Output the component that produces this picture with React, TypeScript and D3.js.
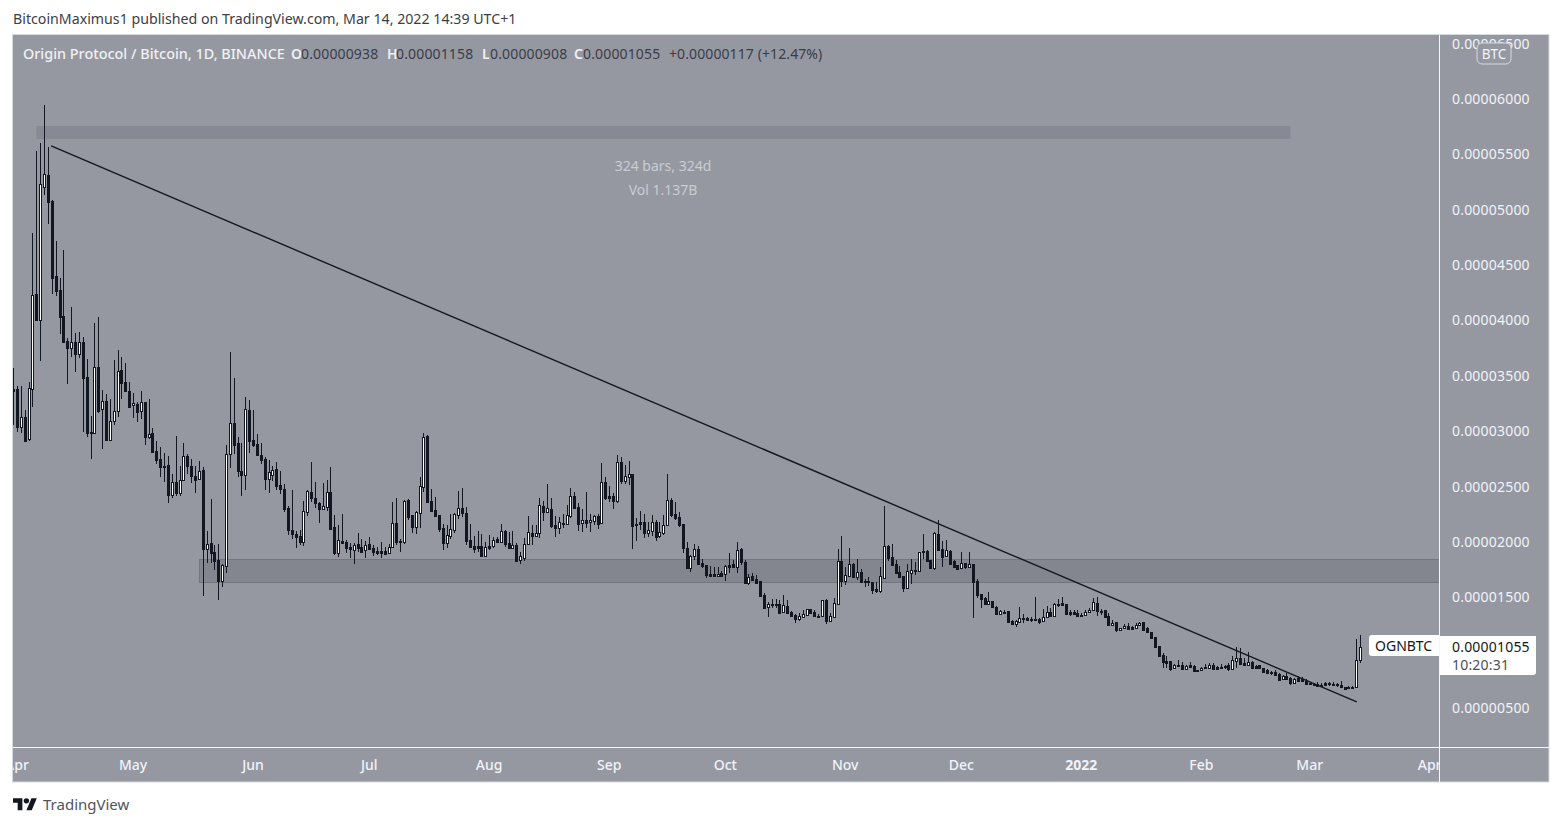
import React from "react";
import * as d3 from "d3";

type C = [number, number, number, number];
// daily OGN/BTC candles in satoshi: open, high, low, close. First row is 31 Mar 2021
const candlesSpring: C[] = [
  [3381,3571,3056,3363],[3381,3408,2993,3038],[3038,3408,2984,3128],[3128,3192,2912,2912],[2930,3445,2912,3390],[3381,4790,3219,4230],[4239,5530,4004,4004],[4004,5603,3634,5232],[5205,5946,5133,5323],[5314,5567,4871,5070],
  [5079,5088,4239,4384],[4402,4718,4221,4266],[4275,4384,3878,4031],[4040,4637,3797,3806],[3815,3842,3426,3752],[3752,4122,3670,3806],[3806,3887,3535,3697],[3697,3896,3661,3806],[3806,3851,2993,3481],[3490,3652,2948,2984],
  [2993,3138,2749,2984],[2984,3977,2984,3580],[3580,4031,3165,3183],[3201,3372,2840,3273],[3273,3336,2912,2921],[2921,3291,2912,3092],[3092,3643,3056,3183],[3183,3734,3128,3544],[3553,3670,3291,3436],[3445,3616,3363,3363],
  [3363,3445,3210,3219],[3237,3345,3120,3255],[3246,3264,3083,3174],[3183,3363,3110,3264],[3264,3264,2876,2948],[2948,3291,2930,2975],[2984,3029,2803,2812],[2821,2912,2704,2740],[2749,2858,2587,2677],[2686,2803,2542,2677],
  [2695,2776,2352,2424],[2424,2614,2397,2542],[2542,2957,2415,2442],[2442,2686,2415,2560],[2560,2894,2560,2776],[2776,2794,2614,2686],[2686,2749,2533,2596],[2596,2686,2442,2560],[2569,2731,2560,2641],[2650,2677,1512,1937],
  [1937,2099,1810,1982],[1991,2388,1810,1900],[1909,1973,1747,1828],[1837,1982,1476,1648],[1648,1801,1593,1792],[1783,2876,1720,2794],[2794,3715,2668,3074],[3074,3481,2794,2876],[2894,2948,2587,2641],[2641,2894,2415,2605],
  [2605,3309,2469,3201],[3192,3282,2803,2912],[2921,3192,2858,2876],[2885,2975,2776,2785],[2785,2894,2704,2740],[2749,2767,2469,2569],[2569,2740,2442,2632],
];
const candlesSummer: C[] = [
  [2605,2686,2551,2650],[2659,2722,2469,2505],[2514,2641,2433,2478],[2478,2523,2271,2298],[2307,2325,2063,2108],[2108,2469,2027,2072],[2072,2099,1946,2045],[2054,2108,1973,2000],[2000,2370,1964,2280],[2271,2469,2234,2460],
  [2451,2722,2361,2397],[2397,2542,2307,2352],[2352,2361,2171,2298],[2298,2533,2289,2325],[2316,2560,2280,2451],[2451,2677,2117,2117],[2135,2244,1882,1900],[1900,2153,1864,2018],[2009,2253,1982,1991],[2000,2018,1900,1946],
  [1955,1991,1855,1937],[1928,1991,1801,1973],[1982,2081,1909,1946],[1955,2027,1900,1909],[1928,2009,1855,1973],[1982,2045,1928,1937],[1946,1973,1873,1909],[1918,1955,1882,1900],[1918,2000,1855,1900],[1918,1955,1891,1891],
  [1900,1982,1891,1955],[1955,2361,1946,2171],[2171,2397,1973,2000],[2000,2027,1909,2009],[2000,2379,1982,2370],[2379,2388,2198,2225],[2244,2244,2081,2135],[2135,2280,2072,2271],[2262,2587,2126,2505],[2496,2984,2451,2948],
  [2957,2966,2361,2361],[2370,2478,2271,2280],[2289,2406,2225,2234],[2244,2244,2090,2117],[2126,2162,1928,1991],[1991,2153,1946,2063],[2054,2253,2027,2117],[2108,2262,2081,2253],[2244,2460,2207,2307],[2307,2487,2225,2262],
  [2262,2316,1973,2009],[2018,2162,1955,1955],[1964,2054,1900,1937],[1964,2099,1909,1946],[1964,2072,1873,1873],[1873,2000,1873,1955],[1964,2063,1928,1946],[1964,2045,1946,2018],[2027,2045,1991,2000],[2000,2162,1991,2099],
  [2099,2108,1955,1982],[1991,2090,1937,1946],[1946,2099,1937,1973],[1973,1991,1819,1828],[1837,1909,1801,1873],[1855,2036,1828,1982],[1982,2234,1982,2090],[2081,2153,1973,2054],[2054,2153,2054,2081],[2081,2397,2036,2334],
];
const candlesAutumn: C[] = [
  [2325,2370,2189,2271],[2271,2523,2262,2307],[2298,2397,2126,2144],[2153,2234,2045,2126],[2126,2225,2072,2180],[2171,2253,2126,2162],[2162,2334,2153,2244],[2234,2487,2216,2415],[2415,2451,2298,2307],[2316,2352,2099,2162],
  [2171,2298,2090,2198],[2198,2451,2126,2171],[2180,2253,2090,2198],[2189,2244,2153,2234],[2234,2253,2117,2162],[2171,2713,2171,2542],[2542,2587,2379,2397],[2415,2505,2361,2397],[2415,2442,2298,2370],[2370,2785,2352,2722],
  [2722,2767,2523,2551],[2551,2695,2523,2596],[2587,2731,2514,2614],[2614,2614,1937,2144],[2153,2216,2009,2162],[2180,2280,2108,2162],[2180,2253,2036,2081],[2081,2180,2045,2108],[2099,2244,2054,2180],[2180,2198,2009,2045],
  [2054,2180,2036,2090],[2081,2244,2063,2153],[2153,2614,2144,2379],[2379,2397,2225,2244],[2253,2361,2198,2216],[2225,2271,2135,2153],[2162,2162,1900,1946],[1946,2000,1765,1765],[1765,1882,1729,1873],[1873,1982,1837,1937],
  [1937,1964,1801,1801],[1810,1846,1765,1783],[1792,1792,1675,1702],[1711,1783,1684,1693],[1711,1774,1684,1693],[1693,1774,1693,1711],[1720,1738,1684,1693],[1711,1792,1648,1783],[1792,1900,1720,1774],[1801,1837,1765,1774],
  [1774,2000,1720,1928],[1937,1946,1792,1819],[1819,1837,1621,1630],[1630,1711,1612,1684],[1693,1720,1657,1657],[1666,1702,1630,1630],[1648,1648,1512,1512],[1521,1539,1394,1403],[1413,1458,1323,1440],[1440,1485,1403,1431],
  [1431,1485,1403,1440],[1440,1476,1350,1358],[1367,1521,1358,1431],[1422,1476,1358,1358],[1367,1376,1323,1332],[1341,1350,1268,1304],[1304,1358,1286,1332],[1323,1385,1323,1350],[1341,1394,1341,1394],[1394,1394,1358,1358],
];
const candlesWinter: C[] = [
  [1367,1385,1332,1332],[1332,1350,1313,1323],[1332,1476,1332,1476],[1476,1485,1259,1286],[1286,1358,1286,1332],[1323,1494,1323,1449],[1440,1937,1440,1828],[1828,2054,1593,1648],[1648,1774,1612,1702],[1693,1946,1684,1801],
  [1801,1810,1684,1684],[1684,1846,1657,1729],[1729,1756,1630,1639],[1648,1666,1593,1639],[1639,1684,1603,1648],[1639,1639,1530,1566],[1575,1639,1539,1557],[1557,1774,1539,1693],[1675,2325,1675,1964],[1964,1973,1828,1855],
  [1864,1982,1783,1792],[1801,1837,1720,1720],[1729,1783,1684,1684],[1693,1693,1548,1584],[1584,1801,1575,1738],[1720,1846,1621,1747],[1747,1819,1702,1738],[1738,1909,1738,1909],[1918,2072,1846,1909],[1918,1928,1819,1828],
  [1837,1837,1756,1765],[1765,2090,1747,2081],[2072,2198,1928,1928],[1937,2009,1774,1864],[1873,2018,1873,1928],[1918,1928,1792,1801],[1828,1837,1765,1774],[1792,1792,1756,1756],[1765,1909,1765,1810],[1810,1810,1756,1774],
  [1774,1909,1765,1801],[1801,1801,1313,1639],[1648,1666,1494,1521],[1530,1530,1403,1485],[1494,1503,1431,1440],[1440,1548,1431,1467],[1467,1467,1413,1413],[1413,1422,1350,1350],[1350,1385,1341,1376],[1367,1385,1350,1358],
  [1376,1376,1277,1277],[1286,1295,1259,1259],[1259,1295,1232,1286],[1277,1413,1277,1313],[1313,1350,1268,1304],[1313,1323,1295,1295],[1304,1323,1277,1295],[1304,1503,1286,1295],[1304,1313,1259,1277],[1286,1394,1277,1323],
  [1323,1422,1313,1367],[1367,1403,1332,1332],[1332,1449,1332,1440],[1440,1485,1413,1431],[1449,1503,1431,1431],[1440,1440,1350,1350],[1367,1385,1332,1350],[1367,1385,1341,1350],[1358,1385,1323,1332],[1341,1358,1323,1332],
];
const candlesEarly2022: C[] = [
  [1341,1385,1332,1367],[1367,1403,1358,1385],[1385,1494,1376,1458],[1449,1503,1332,1376],[1376,1394,1341,1367],[1385,1385,1323,1323],[1332,1358,1250,1250],[1250,1295,1241,1268],[1277,1277,1187,1205],[1205,1223,1196,1223],
  [1223,1259,1214,1241],[1241,1268,1214,1214],[1232,1241,1205,1214],[1223,1268,1214,1250],[1250,1277,1241,1268],[1277,1277,1205,1205],[1223,1232,1178,1187],[1187,1187,1133,1133],[1142,1142,1052,1052],[1061,1061,970,970],
  [979,997,862,916],[925,970,862,907],[925,925,835,853],[862,898,853,889],[889,934,871,880],[889,916,853,853],[853,889,844,880],[889,916,862,871],[880,889,835,835],[844,844,835,835],
  [844,871,835,862],[871,898,853,862],[862,907,853,889],[889,907,853,853],[871,880,844,853],[871,898,862,862],[880,889,853,871],[889,907,835,853],[853,970,853,934],[925,1052,862,952],
  [952,1043,889,898],[907,952,880,889],[889,1006,880,916],[916,925,853,862],[880,889,853,862],[889,889,862,862],[862,862,826,826],[844,853,817,817],[826,835,798,817],[826,844,790,798],
  [808,817,754,754],[763,798,754,790],[790,817,763,763],[772,781,708,726],[726,772,717,763],[772,790,745,745],[763,781,735,745],[745,763,717,717],[726,726,717,717],[717,726,699,708],
  [717,735,690,699],[708,726,690,703],[726,735,699,708],[726,735,699,717],[717,735,699,708],[717,726,690,708],[708,745,681,690],[690,690,672,672],[690,699,681,685],[685,699,681,690],
  [690,1124,690,938],[938,1158,908,1055],
];

const priceTicks = [500, 1500, 2000, 2500, 3000, 3500, 4000, 4500, 5000, 5500, 6000, 6500];
const monthLabels = ["Apr","May","Jun","Jul","Aug","Sep","Oct","Nov","Dec","2022","Feb","Mar","Apr"];
const resistanceZone = { from: "2021-04-06T00:00Z", to: "2022-02-24T00:00Z", top: 5756, bottom: 5639 };
const supportZone = { from: "2021-05-18T06:00Z", top: 1837, bottom: 1630 };
const trendStart = { date: "2021-04-09T20:00Z", price: 5576 };
const trendEnd = { date: "2022-03-13T04:00Z", price: 555 };
const headerTitle = "Origin Protocol / Bitcoin, 1D, BINANCE";
const ohlcLabels = ["O", "H", "L", "C"];
const ohlcValues = ["0.00000938", "0.00001158", "0.00000908", "0.00001055"];

const W = 1562, H = 826;
const plot = { l: 13, r: 1439, t: 35, b: 747, outerR: 1549, outerB: 782 };
const BG = "#9598a1", DARK = "#131722", FONT = "'Noto Sans', sans-serif";
const ohlcLabelX = [291, 387, 482, 574];
const ohlcValueX = [301, 396, 490, 583];

const candles: C[] = [...candlesSpring, ...candlesSummer, ...candlesAutumn, ...candlesWinter, ...candlesEarly2022];
const lastDate = new Date("2022-03-14T00:00Z");
const dateOf = (i: number) => d3.utcDay.offset(lastDate, i - (candles.length - 1));

const x = d3.scaleUtc().domain([new Date("2021-04-01T00:00Z"), lastDate]).range([17, 1360]);
const y = d3.scaleLinear().domain([500, 6000]).range([708, 99]);
const fmt = (sat: number) => (sat / 1e8).toFixed(8);
const monthTicks = d3.utcMonth.range(new Date("2021-04-01T00:00Z"), new Date("2022-04-02T00:00Z"));

export default function App() {
  const trendPath = d3.line<{ date: string; price: number }>()
    .x(d => x(new Date(d.date)))
    .y(d => y(d.price))([trendStart, trendEnd]) as string;
  const z1x = x(new Date(resistanceZone.from)), z1r = x(new Date(resistanceZone.to));
  const z2x = x(new Date(supportZone.from));
  return (
    <svg width={W} height={H} viewBox={`0 0 ${W} ${H}`} style={{ position: "absolute", left: 0, top: 0, display: "block", background: "#fff" }} fontFamily={FONT}>
      <defs>
        <clipPath id="plotClip"><rect x={plot.l} y={plot.t} width={plot.r - plot.l} height={plot.b - plot.t} /></clipPath>
        <clipPath id="timeClip"><rect x={plot.l} y={plot.b} width={plot.r - plot.l} height={plot.outerB - plot.b} /></clipPath>
        <clipPath id="axisClip"><rect x={plot.r} y={plot.t} width={plot.outerR - plot.r} height={plot.b - plot.t} /></clipPath>
      </defs>
      <text x={13} y={24} fontSize={14.2} fill="#3b3e47">BitcoinMaximus1 published on TradingView.com, Mar 14, 2022 14:39 UTC+1</text>
      <rect x={12.5} y={34.5} width={plot.outerR - 12.5} height={plot.outerB - 34.5} fill={BG} stroke="#d6d9e0" />
      <g clipPath="url(#plotClip)">
        <rect x={z1x} y={y(resistanceZone.top)} width={z1r - z1x} height={y(resistanceZone.bottom) - y(resistanceZone.top)} fill="#878a94" />
        <rect x={z2x} y={y(supportZone.top)} width={plot.r - z2x + 2} height={y(supportZone.bottom) - y(supportZone.top)} fill="#83868f" stroke="#73767e" shapeRendering="crispEdges" />
        <g shapeRendering="crispEdges">
          {candles.map((c, i) => {
            const [o, h, l, cl] = c;
            const cx = Math.round(x(dateOf(i)));
            const yTop = Math.round(y(Math.max(o, cl)));
            const yBot = Math.max(Math.round(y(Math.min(o, cl))), yTop + 1);
            const up = cl >= o;
            return (
              <g key={i}>
                <rect x={cx} y={Math.round(y(h))} width={1} height={Math.max(1, Math.round(y(l)) - Math.round(y(h)))} fill={DARK} />
                <rect x={cx - 1} y={yTop} width={3} height={yBot - yTop + 1} fill={DARK} />
                {up && yBot - yTop >= 2 && <rect x={cx} y={yTop + 1} width={1} height={yBot - yTop - 1} fill="#ffffff" />}
              </g>
            );
          })}
        </g>
        <path d={trendPath} fill="none" stroke={DARK} strokeWidth={1.4} />
      </g>
      <text x={23} y={58.5} fontSize={14.4} fontWeight={500} fill="#f0f1f4">{headerTitle}</text>
      {ohlcLabels.map((k, i) => (
        <g key={k}>
          <text x={ohlcLabelX[i]} y={58.5} fontSize={14} fontWeight={600} fill="#f0f1f4">{k}</text>
          <text x={ohlcValueX[i]} y={58.5} fontSize={14} letterSpacing={0.15} fill="#3a3d47">{ohlcValues[i]}</text>
        </g>
      ))}
      <text x={669} y={58.5} fontSize={14} letterSpacing={0.1} fill="#3a3d47">+0.00000117 (+12.47%)</text>
      <text x={663} y={171} fontSize={14} fill="#c9ccd3" textAnchor="middle">324 bars, 324d</text>
      <text x={663} y={195} fontSize={14} fill="#c9ccd3" textAnchor="middle">Vol 1.137B</text>

      <line x1={plot.r + 0.5} x2={plot.r + 0.5} y1={35} y2={plot.outerB} stroke="#f5f6f8" />
      <line x1={plot.l} x2={plot.outerR} y1={plot.b + 0.5} y2={plot.b + 0.5} stroke="#f5f6f8" />

      <g clipPath="url(#axisClip)">
        {priceTicks.map(t => (
          <text key={t} x={1452} y={y(t) + 5} fontSize={14} letterSpacing={0.2} fill="#f0f3fa">{fmt(t)}</text>
        ))}
      </g>
      <rect x={1477} y={43} width={34} height={21} rx={5} fill={BG} stroke="#d6d9e0" />
      <text x={1494} y={58.5} fontSize={13.5} fill="#f0f3fa" textAnchor="middle">BTC</text>

      <g clipPath="url(#timeClip)">
        {monthTicks.map((d, i) => (
          <text key={i} x={x(d)} y={770} fontSize={14} fill="#f0f3fa" textAnchor="middle" fontWeight={monthLabels[i] === "2022" ? 700 : 500}>{monthLabels[i]}</text>
        ))}
      </g>

      <path d="M1439 635H1372a3 3 0 0 0 -3 3V653a3 3 0 0 0 3 3H1439Z" fill="#fff" />
      <text x={1375} y={651} fontSize={14} fill="#131722">OGNBTC</text>
      <path d="M1440 636H1536V672a3 3 0 0 1 -3 3H1440Z" fill="#fff" />
      <text x={1452} y={652} fontSize={14} letterSpacing={0.2} fill="#131722">{fmt(1055)}</text>
      <text x={1452} y={670} fontSize={14} letterSpacing={0.2} fill="#4a4d57">10:20:31</text>

      <g transform="translate(13,795.5) scale(0.67)" fill="#131722">
        <path d="M14 22H7V11H0V4h14v18zM28 22h-8l7.5-18h8L28 22z" />
        <circle cx={20} cy={8} r={4} />
      </g>
      <text x={43} y={810} fontSize={15} fill="#50535e">TradingView</text>
    </svg>
  );
}
